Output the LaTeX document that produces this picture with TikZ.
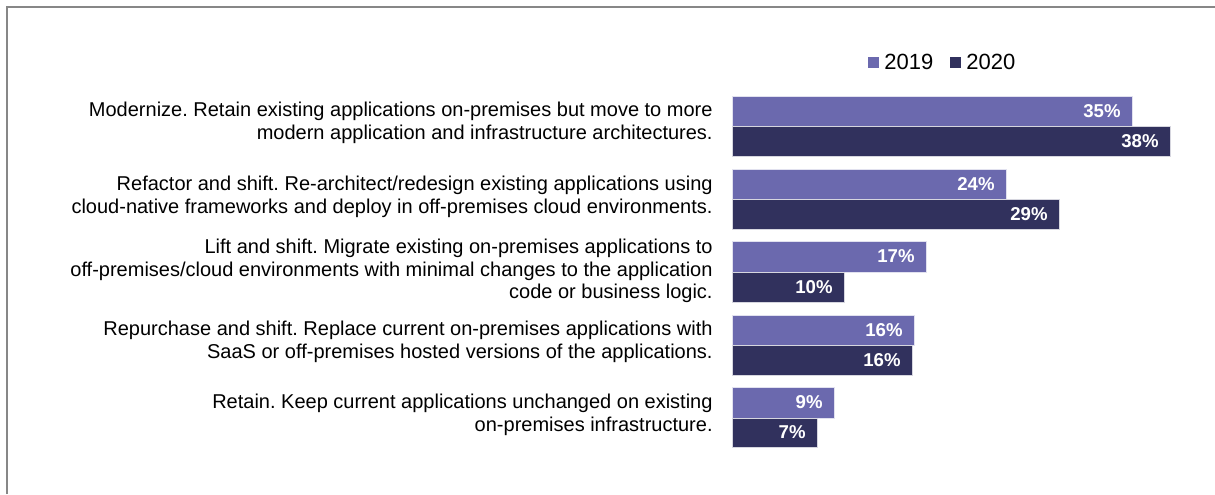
\documentclass[tikz,border=0pt]{standalone}
\usepackage{xcolor}
\usepackage{fontspec}
\setmainfont{Liberation Sans}
\usepackage{tikz}
\usetikzlibrary{positioning}
\frenchspacing

\definecolor{yrone}{RGB}{107,105,174}
\definecolor{yrtwo}{RGB}{49,49,93}
\definecolor{framegray}{RGB}{135,135,135}

\begin{document}
\begin{tikzpicture}[x=0.5pt, y=-0.5pt, node distance=2pt and 2pt]

        % Styles
        \tikzstyle{cat} = [anchor=east, align=right, inner sep=0pt, font=\fontsize{10}{11.4}\selectfont]
        \tikzstyle{val} = [anchor=east, inner sep=0pt, text=white, font=\bfseries\fontsize{9.3}{10}\selectfont]
        \tikzstyle{baryrone} = [fill=yrone, draw=white!80!yrone, line width=0.3pt]
        \tikzstyle{baryrtwo} = [fill=yrtwo, draw=white!80!yrtwo, line width=0.3pt]
        \tikzstyle{key} = [inner sep=0pt, minimum size=5.5pt]
        \tikzstyle{keytext} = [inner sep=0pt, font=\fontsize{11}{12}\selectfont]

        \useasboundingbox (0,0) rectangle (1215,494);

        % Frame
        \draw[framegray, line width=1.1pt] (7,494) -- (7,7) -- (1215,7);

        % Legend
        \node[key, fill=yrone] (k19) at (873,62) {};
        \node[keytext, right=2.5pt of k19] (t19) {2019};
        \node[key, fill=yrtwo] (k20) at (955,62) {};
        \node[keytext, right=2.5pt of k20] (t20) {2020};

        % Modernize
        \draw[baryrone] (732,96) rectangle (1132,126);
        \draw[baryrtwo] (732,126) rectangle (1170,156);
        \node[val] (v1a) at (1121,111) {35\%};
        \node[val] (v1b) at (1159,141) {38\%};
        \node[cat] (c1) at (713,123) {Modernize. Retain existing applications on-premises but move to more\\modern application and infrastructure architectures.};

        % Refactor and shift
        \draw[baryrone] (732,169) rectangle (1006,199);
        \draw[baryrtwo] (732,199) rectangle (1059,229);
        \node[val] (v2a) at (995,184) {24\%};
        \node[val] (v2b) at (1048,214) {29\%};
        \node[cat] (c2) at (713,197) {Refactor and shift. Re-architect/redesign existing applications using\\cloud-native frameworks and deploy in off-premises cloud environments.};

        % Lift and shift
        \draw[baryrone] (732,241) rectangle (926,272);
        \draw[baryrtwo] (732,272) rectangle (844,302);
        \node[val] (v3a) at (915,256) {17\%};
        \node[val] (v3b) at (833,287) {10\%};
        \node[cat] (c3) at (713,271) {Lift and shift. Migrate existing on-premises applications to\\off-premises/cloud environments with minimal changes to the application\\code or business logic.};

        % Repurchase and shift
        \draw[baryrone] (732,315) rectangle (914,345);
        \draw[baryrtwo] (732,345) rectangle (912,375);
        \node[val] (v4a) at (903,330) {16\%};
        \node[val] (v4b) at (901,360) {16\%};
        \node[cat] (c4) at (713,342) {Repurchase and shift. Replace current on-premises applications with\\SaaS or off-premises hosted versions of the applications.};

        % Retain
        \draw[baryrone] (732,387) rectangle (834,418);
        \draw[baryrtwo] (732,418) rectangle (817,447);
        \node[val] (v5a) at (823,402) {9\%};
        \node[val] (v5b) at (806,432) {7\%};
        \node[cat] (c5) at (713,415) {Retain. Keep current applications unchanged on existing\\on-premises infrastructure.};

\end{tikzpicture}
\end{document}
